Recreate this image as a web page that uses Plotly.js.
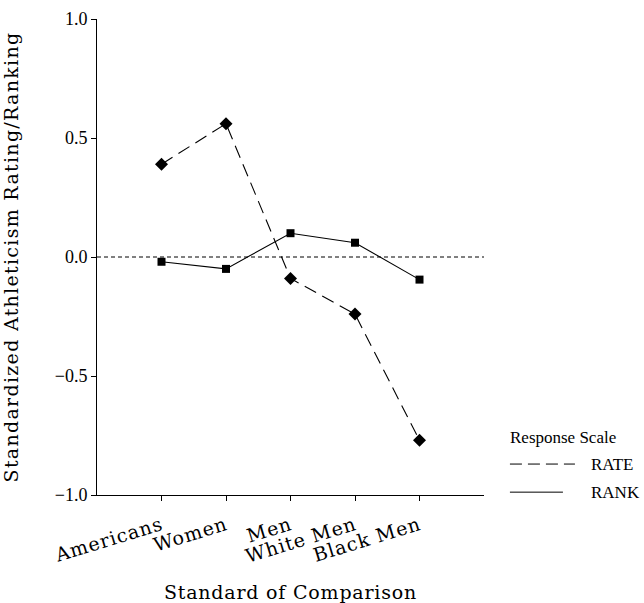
<!DOCTYPE html>
<html>
<head>
<meta charset="utf-8">
<script src="https://cdn.plot.ly/plotly-3.0.1.min.js"></script>
<style>
html,body{margin:0;padding:0;background:#fff;}
#chart{width:644px;height:603px;}
#chart .ytitle{letter-spacing:1.3px;}
#chart .xtitle{letter-spacing:0.8px;}
#chart .xtick text{letter-spacing:1px;}
</style>
</head>
<body>
<div id="chart"></div>
<script>
// Data
const categories = ["Americans", "Women", "Men", "White Men", "Black Men"];
const rateValues = [0.39, 0.56, -0.09, -0.24, -0.77];
const rankValues = [-0.02, -0.05, 0.10, 0.06, -0.095];
const yTickVals = [-1.0, -0.5, 0.0, 0.5, 1.0];
const yTickText = ["\u22121.0", "\u22120.5", "0.0", "0.5", "1.0"];
const legendTitle = "Response Scale";
const seriesNames = ["RATE", "RANK"];

const serifWide = "DejaVu Serif, serif";
const serifTimes = "Liberation Serif, Times New Roman, serif";

const traces = [
  {
    x: categories, y: rateValues, name: seriesNames[0], type: "scatter", mode: "lines+markers",
    line: {color: "#000", width: 1.1, dash: "13px,7px"},
    marker: {symbol: "diamond", size: 10, color: "#000"},
    showlegend: false, hoverinfo: "x+y"
  },
  {
    x: categories, y: rankValues, name: seriesNames[1], type: "scatter", mode: "lines+markers",
    line: {color: "#000", width: 1.1},
    marker: {symbol: "square", size: 8, color: "#000"},
    showlegend: false, hoverinfo: "x+y"
  }
];

const layout = {
  width: 644, height: 603,
  margin: {l: 97, r: 160, t: 19, b: 108, pad: 0},
  paper_bgcolor: "#fff", plot_bgcolor: "#fff",
  showlegend: false,
  xaxis: {
    type: "category",
    range: [-1, 5],
    showgrid: false, zeroline: false,
    showline: true, linecolor: "#000", linewidth: 1,
    ticks: "outside", ticklen: 5, tickwidth: 1, tickcolor: "#000",
    tickangle: -17,
    ticklabelstandoff: 6,
    tickfont: {family: serifWide, size: 19, color: "#000"},
    title: {text: "Standard of Comparison", font: {family: serifWide, size: 19, color: "#000"}, standoff: 26},
    fixedrange: true
  },
  yaxis: {
    range: [-1, 1],
    tickvals: yTickVals, ticktext: yTickText,
    showgrid: false, zeroline: false,
    showline: true, linecolor: "#000", linewidth: 1,
    ticks: "outside", ticklen: 5, tickwidth: 1, tickcolor: "#000",
    tickfont: {family: serifTimes, size: 18, color: "#000"},
    title: {text: "Standardized Athleticism Rating/Ranking", font: {family: serifWide, size: 19, color: "#000"}, standoff: 35},
    fixedrange: true
  },
  shapes: [
    {type: "line", xref: "paper", yref: "y", x0: 0, x1: 1, y0: 0, y1: 0,
     line: {color: "#000", width: 1, dash: "4px,3px"}},
    {type: "line", xref: "paper", yref: "paper", x0: 1.067, x1: 1.235, y0: 0.065, y1: 0.065,
     line: {color: "#000", width: 1, dash: "12px,6px"}},
    {type: "line", xref: "paper", yref: "paper", x0: 1.067, x1: 1.204, y0: 0.006, y1: 0.006,
     line: {color: "#000", width: 1}}
  ],
  annotations: [
    {text: legendTitle, xref: "paper", yref: "paper", x: 1.063, y: 0.120, xanchor: "left", yanchor: "middle",
     showarrow: false, font: {family: serifTimes, size: 17, color: "#000"}},
    {text: seriesNames[0], xref: "paper", yref: "paper", x: 1.271, y: 0.065, xanchor: "left", yanchor: "middle",
     showarrow: false, font: {family: serifTimes, size: 17, color: "#000"}},
    {text: seriesNames[1], xref: "paper", yref: "paper", x: 1.271, y: 0.006, xanchor: "left", yanchor: "middle",
     showarrow: false, font: {family: serifTimes, size: 17, color: "#000"}}
  ]
};

Plotly.newPlot("chart", traces, layout, {displayModeBar: false, staticPlot: true});
</script>
</body>
</html>
